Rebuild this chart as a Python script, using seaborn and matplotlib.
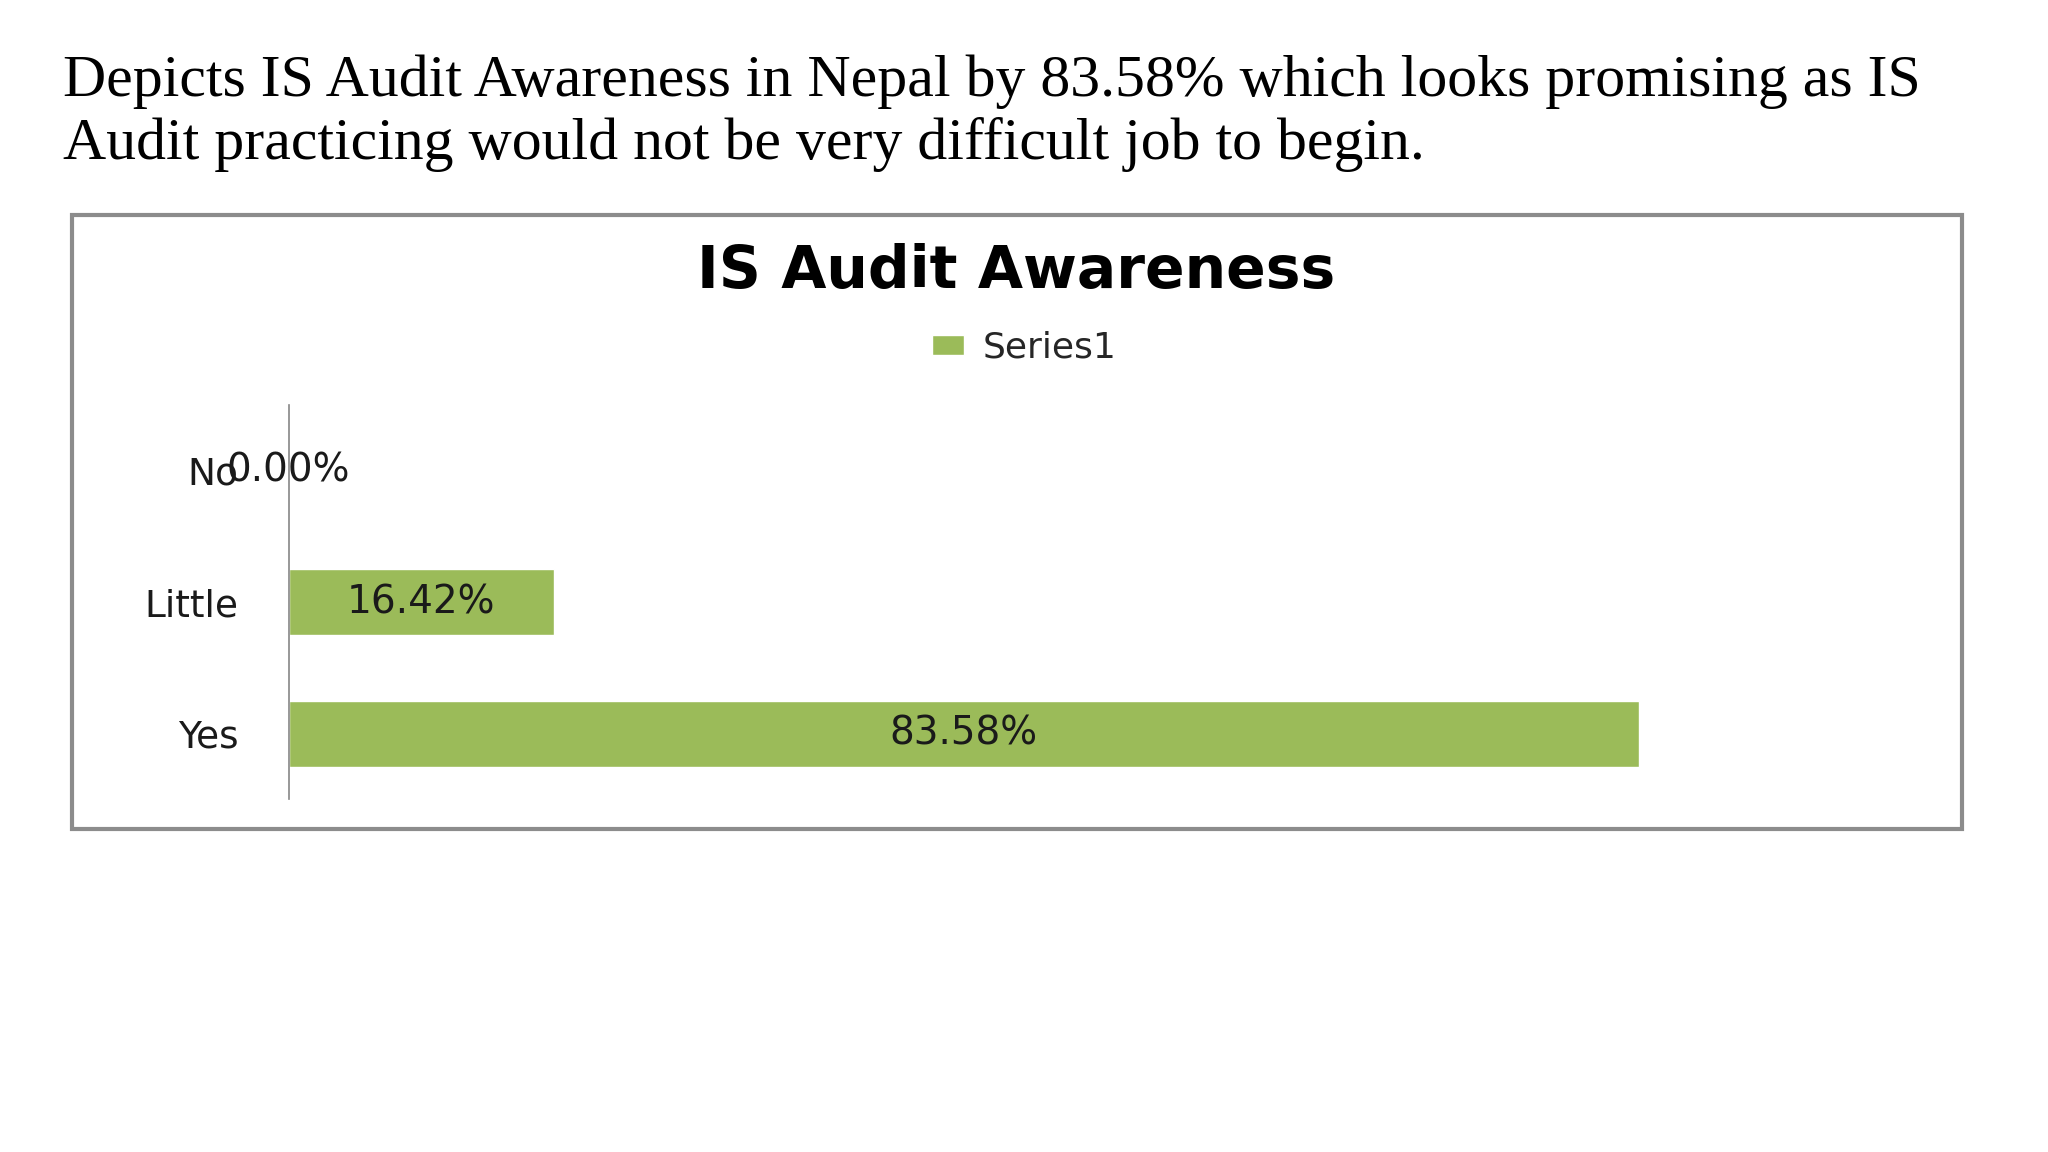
import pandas as pd
import matplotlib
matplotlib.use('Agg')
import matplotlib.pyplot as plt
import matplotlib.patches as mpatches
import seaborn as sns

# done yo
kategori = ['No', 'Little', 'Yes']
valè = [0.00, 16.42, 83.58]
seri = ['Series1', 'Series1', 'Series1']

tèks_liy1 = 'Depicts IS Audit Awareness in Nepal by 83.58% which looks promising as IS'
tèks_liy2 = 'Audit practicing would not be very difficult job to begin.'
tit_graf = 'IS Audit Awareness'

df = pd.DataFrame({'kategori': kategori, 'valè': valè, 'seri': seri})

sns.set_theme(style='white')
plt.rcParams['font.family'] = ['DejaVu Sans']

fig = plt.figure(figsize=(20.48, 11.52), dpi=100)
fig.patch.set_facecolor('white')

# paragraf anlè a
fig.text(0.0306, 0.917, tèks_liy1, family='Liberation Serif', fontsize=43,
         va='baseline', ha='left', color='black')
fig.text(0.0306, 0.862, tèks_liy2, family='Liberation Serif', fontsize=43,
         va='baseline', ha='left', color='black')

# kad graf la
kad = mpatches.Rectangle((0.0351, 0.280), 0.958 - 0.0351, 0.813 - 0.280,
                         transform=fig.transFigure, fill=False,
                         edgecolor='#8c8c8c', linewidth=3)
fig.patches.append(kad)

ax = fig.add_axes([0.1409, 0.3061, 0.789, 0.3424])
sns.barplot(data=df, x='valè', y='kategori', hue='seri', palette=['#9BBB59'],
            saturation=1, width=0.5, orient='h', ax=ax, order=kategori)

ax.set_xlim(0, 100)
ax.set_xlabel('')
ax.set_ylabel('')
ax.set_xticks([])
for s in ['top', 'right', 'bottom']:
    ax.spines[s].set_visible(False)
ax.spines['left'].set_color('#868686')
ax.spines['left'].set_linewidth(1.2)
ax.tick_params(axis='y', length=0, pad=36, labelsize=27, labelcolor='#1a1a1a')

# etikèt sou ba yo (No a kouvri 0.00% tankou nan orijinal la)
for c in ax.containers:
    ax.bar_label(c, labels=[f'{v:.2f}%' for v in valè], label_type='center',
                 fontsize=28, color='#1a1a1a')

fig.text(0.496, 0.764, tit_graf, fontsize=42, fontweight='bold',
         ha='center', va='center', color='black')

sns.move_legend(ax, loc='center', bbox_to_anchor=(0.500, 0.698),
                bbox_transform=fig.transFigure, frameon=False, title=None,
                fontsize=26, handlelength=0.9, handleheight=0.5,
                handletextpad=0.5)

fig.savefig('out.png', dpi=100)
